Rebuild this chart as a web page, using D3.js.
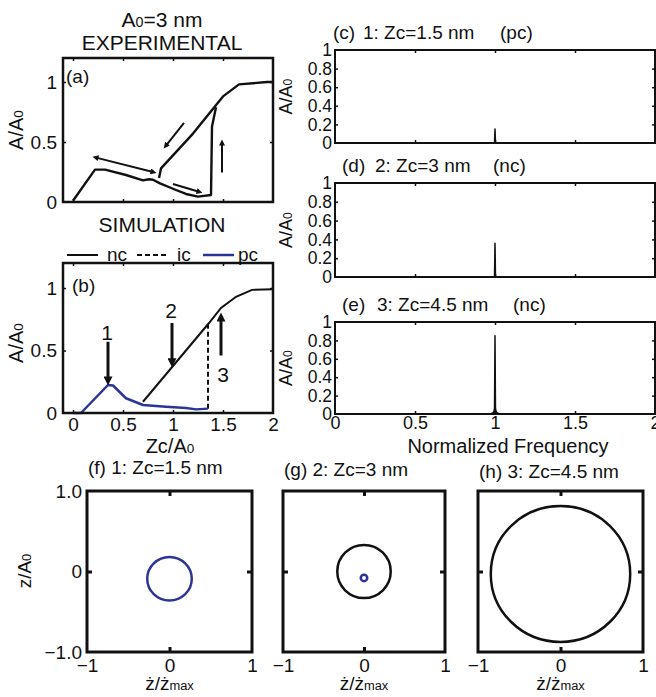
<!DOCTYPE html>
<html>
<head>
<meta charset="utf-8">
<script src="https://cdn.jsdelivr.net/npm/d3@7"></script>
<style>
  body { margin: 0; background: #fff; }
  svg { display: block; font-family: "Liberation Sans", Arial, Helvetica, sans-serif; }
</style>
</head>
<body>
<svg id="fig" width="656" height="697"></svg>
<script>
// ---- data ----
// (a) experimental A/A0 vs Zc/A0
const expLowerX = [0, 0.22, 0.32, 0.53, 0.70, 0.76, 0.80, 0.87, 1.03, 1.13, 1.25, 1.38, 1.39, 1.43];
const expLowerY = [0.01, 0.27, 0.27, 0.225, 0.18, 0.19, 0.185, 0.155, 0.10, 0.067, 0.045, 0.058, 0.63, 0.79];
const expUpperX = [0.86, 0.88, 1.20, 1.50, 1.66, 1.94, 2.0];
const expUpperY = [0.20, 0.28, 0.57, 0.88, 0.98, 1.0, 1.0];
// arrows in (a): [x1, y1, x2, y2, double]
const expArrows = [
  [0.80, 0.25, 0.23, 0.37, true],
  [1.00, 0.15, 1.26, 0.085, false],
  [1.11, 0.66, 0.93, 0.47, false],
  [1.49, 0.245, 1.49, 0.49, false]
];

// (b) simulation
const simPcX = [0, 0.08, 0.35, 0.40, 0.53, 0.70, 0.93, 1.13, 1.23, 1.35];
const simPcY = [0, 0, 0.224, 0.22, 0.118, 0.064, 0.05, 0.04, 0.029, 0.035];
const simNcX = [0.70, 1.36, 1.48, 1.63, 1.79, 2.0];
const simNcY = [0.09, 0.72, 0.84, 0.93, 0.985, 0.99];
const simIcX = [1.35, 1.35];
const simIcY = [0.035, 0.71];
const simArrows = [
  [0.35, 0.57, 0.35, 0.264],
  [0.99, 0.72, 0.99, 0.41],
  [1.48, 0.46, 1.48, 0.76]
];
const simMarks = [['1', 0.34, 0.584], ['2', 0.98, 0.76], ['3', 1.50, 0.25]];
const legendNames = ['nc', 'ic', 'pc'];

// (c)-(e) spectra
const specFreq = [0, 0.96, 0.975, 0.985, 0.993, 0.997, 1, 1.003, 1.007, 1.015, 1.025, 1.04, 2];
const specC = [0, 0, 0, 0, 0, 0.004, 0.15, 0.004, 0, 0, 0, 0, 0];
const specD = [0, 0, 0, 0, 0, 0.006, 0.36, 0.006, 0, 0, 0, 0, 0];
const specE = [0, 0, 0.004, 0.01, 0.025, 0.06, 0.85, 0.06, 0.025, 0.01, 0.004, 0, 0];
const specTitles = [
  ['(c)', '1: Zc=1.5 nm', '(pc)'],
  ['(d)', '2: Zc=3 nm', '(nc)'],
  ['(e)', '3: Zc=4.5 nm', '(nc)']
];
const specTicksY = [0, 0.2, 0.4, 0.6, 0.8, 1];
const specTicksX = [0, 0.5, 1, 1.5, 2];

// (f)-(h) phase portraits: [centre x, centre y, radius, branch]
const orbitsF = [[0, -0.09, 0.27, 'pc']];
const orbitsG = [[0, 0, 0.33, 'nc'], [0, -0.08, 0.04, 'pc']];
const orbitsH = [[0, -0.03, 0.845, 'nc']];
const orbitTitles = ['(f) 1: Zc=1.5 nm', '(g) 2: Zc=3 nm', '(h) 3: Zc=4.5 nm'];

// ---- drawing ----
const svg = d3.select('#fig');
const BLUE = '#2b3596';
const colorOf = b => b === 'pc' ? BLUE : '#111';

svg.append('defs').selectAll('marker')
  .data([['headS', 10, 6], ['headL', 15, 9]])
  .join('marker')
  .attr('id', d => d[0])
  .attr('markerUnits', 'userSpaceOnUse')
  .attr('viewBox', '0 0 10 10')
  .attr('refX', 4).attr('refY', 5)
  .attr('markerWidth', d => d[1]).attr('markerHeight', d => d[2])
  .attr('orient', 'auto-start-reverse')
  .append('path').attr('d', 'M0,0L10,5L0,10Z').attr('fill', '#111');

function makePanel(x0, x1, y0, y1, xDom, yDom, frameW) {
  const x = d3.scaleLinear().domain(xDom).range([x0, x1]);
  const y = d3.scaleLinear().domain(yDom).range([y1, y0]);
  const g = svg.append('g');
  return { g, x, y, x0, x1, y0, y1, frameW };
}

function innerTicks(p, xt, yt, len, w) {
  const add = (axis, tr) => {
    const a = p.g.append('g').attr('transform', tr).call(axis);
    a.select('.domain').remove();
    a.selectAll('text').remove();
    a.selectAll('line').attr('stroke', '#111').attr('stroke-width', w);
  };
  add(d3.axisBottom(p.x).tickValues(xt).tickSize(-len), `translate(0,${p.y1})`);
  add(d3.axisTop(p.x).tickValues(xt).tickSize(-len), `translate(0,${p.y0})`);
  add(d3.axisLeft(p.y).tickValues(yt).tickSize(-len), `translate(${p.x0},0)`);
  add(d3.axisRight(p.y).tickValues(yt).tickSize(-len), `translate(${p.x1},0)`);
}

function frame(p) {
  p.g.append('rect')
    .attr('x', p.x0).attr('y', p.y0)
    .attr('width', p.x1 - p.x0).attr('height', p.y1 - p.y0)
    .attr('fill', 'none').attr('stroke', '#111').attr('stroke-width', p.frameW);
}

function tickLabels(p, side, vals, fmt, size, pad) {
  const axis = (side === 'left' ? d3.axisLeft(p.y) : d3.axisBottom(p.x))
    .tickValues(vals).tickSize(0).tickPadding(pad).tickFormat(fmt);
  const a = p.g.append('g')
    .attr('transform', side === 'left' ? `translate(${p.x0},0)` : `translate(0,${p.y1})`)
    .call(axis);
  a.select('.domain').remove();
  a.attr('font-family', null).attr('font-size', size);
  a.selectAll('text').attr('fill', '#111');
}

// text with a small subscript part, e.g. A/A0
function subText(sel, parts, size) {
  parts.forEach(([t, small]) => {
    sel.append('tspan').attr('font-size', small ? size * 0.68 : size).text(t);
  });
  return sel;
}

function yLabel(cx, cy, parts, size) {
  const t = svg.append('text')
    .attr('transform', `translate(${cx},${cy}) rotate(-90)`)
    .attr('text-anchor', 'middle').attr('fill', '#111');
  subText(t, parts, size);
}

const lineGen = (p, xs, ys) => d3.line().x((d, i) => p.x(xs[i])).y((d, i) => p.y(ys[i]))(xs);

// titles
subText(svg.append('text').attr('x', 162).attr('y', 27).attr('text-anchor', 'middle').attr('fill', '#111'),
  [['A', false], ['0', true], ['=3 nm', false]], 21);
svg.append('text').attr('x', 162).attr('y', 50).attr('text-anchor', 'middle')
  .attr('font-size', 21).attr('fill', '#111').text('EXPERIMENTAL');
svg.append('text').attr('x', 162).attr('y', 232).attr('text-anchor', 'middle')
  .attr('font-size', 21).attr('fill', '#111').text('SIMULATION');

// ---- (a) ----
const pa = makePanel(63, 273, 58, 202, [-0.1, 2], [0, 1.2], 2.5);
innerTicks(pa, [0, 0.5, 1, 1.5], [0.5, 1], 3, 1.5);
pa.g.append('path').attr('d', lineGen(pa, expLowerX, expLowerY))
  .attr('fill', 'none').attr('stroke', '#111').attr('stroke-width', 2.4).attr('stroke-linejoin', 'round');
pa.g.append('path').attr('d', lineGen(pa, expUpperX, expUpperY))
  .attr('fill', 'none').attr('stroke', '#111').attr('stroke-width', 2.4).attr('stroke-linejoin', 'round');
pa.g.selectAll('line.arr').data(expArrows).join('line')
  .attr('x1', d => pa.x(d[0])).attr('y1', d => pa.y(d[1]))
  .attr('x2', d => pa.x(d[2])).attr('y2', d => pa.y(d[3]))
  .attr('stroke', '#111').attr('stroke-width', 2)
  .attr('marker-end', 'url(#headS)')
  .attr('marker-start', d => d[4] ? 'url(#headS)' : null);
frame(pa);
tickLabels(pa, 'left', [0, 0.5, 1], d => d === 0 ? '0' : d3.format('~g')(d), 19, 6);
pa.g.append('text').attr('x', 66).attr('y', 83).attr('font-size', 19).attr('fill', '#111').text('(a)');
yLabel(23, 130, [['A/A', false], ['0', true]], 20);

// ---- (b) ----
const pb = makePanel(63, 273, 263, 413, [-0.1, 2], [0, 1.2], 2.5);
innerTicks(pb, [0, 0.5, 1, 1.5], [0.5, 1], 3, 1.5);
pb.g.append('path').attr('d', lineGen(pb, simNcX, simNcY))
  .attr('fill', 'none').attr('stroke', '#111').attr('stroke-width', 2);
pb.g.append('path').attr('d', lineGen(pb, simIcX, simIcY))
  .attr('fill', 'none').attr('stroke', '#111').attr('stroke-width', 2).attr('stroke-dasharray', '5,3');
pb.g.append('path').attr('d', lineGen(pb, simPcX, simPcY))
  .attr('fill', 'none').attr('stroke', BLUE).attr('stroke-width', 2.5).attr('stroke-linejoin', 'round');
pb.g.selectAll('line.arr').data(simArrows).join('line')
  .attr('x1', d => pb.x(d[0])).attr('y1', d => pb.y(d[1]))
  .attr('x2', d => pb.x(d[2])).attr('y2', d => pb.y(d[3]))
  .attr('stroke', '#111').attr('stroke-width', 3)
  .attr('marker-end', 'url(#headL)');
pb.g.selectAll('text.mark').data(simMarks).join('text')
  .attr('x', d => pb.x(d[1])).attr('y', d => pb.y(d[2]))
  .attr('text-anchor', 'middle').attr('font-size', 21).attr('fill', '#111').text(d => d[0]);
frame(pb);
tickLabels(pb, 'left', [0, 0.5, 1], d => d === 0 ? '0' : d3.format('~g')(d), 19, 6);
tickLabels(pb, 'bottom', [0, 0.5, 1, 1.5, 2], d3.format('~g'), 19, 5);
pb.g.append('text').attr('x', 72).attr('y', 292).attr('font-size', 19).attr('fill', '#111').text('(b)');
yLabel(23, 343, [['A/A', false], ['0', true]], 20);
subText(svg.append('text').attr('x', 170).attr('y', 453).attr('text-anchor', 'middle').attr('fill', '#111'),
  [['Zc/A', false], ['0', true]], 20);

// legend above (b)
const legX = [67, 137, 203];
const leg = svg.append('g').selectAll('g').data(legendNames).join('g')
  .attr('transform', (d, i) => `translate(${legX[i]},255)`);
leg.append('line').attr('x1', 0).attr('x2', 31).attr('y1', 0).attr('y2', 0)
  .attr('stroke', d => colorOf(d)).attr('stroke-width', d => d === 'pc' ? 2.5 : 2)
  .attr('stroke-dasharray', d => d === 'ic' ? '5,3' : null);
leg.append('text').attr('x', (d, i) => i === 2 ? 35 : 40).attr('y', 6)
  .attr('font-size', 19).attr('fill', '#111').text(d => d);

// ---- (c)-(e) spectra ----
const specBoxes = [[50, 143], [183, 277], [322, 414]];
const specSeries = [specC, specD, specE];
const titleY = [39, 172, 311];
const titleX = [[333, 363, 500], [342, 375, 493], [342, 377, 513]];
specBoxes.forEach((b, k) => {
  const p = makePanel(335, 655, b[0], b[1], [0, 2], [0, 1], 2);
  innerTicks(p, [0.5, 1, 1.5], [0.2, 0.4, 0.6, 0.8], 3, 1.5);
  const area = d3.area()
    .x((d, i) => p.x(specFreq[i])).y0(p.y(0)).y1((d, i) => p.y(specSeries[k][i]));
  p.g.append('path').attr('d', area(specFreq)).attr('fill', '#111')
    .attr('stroke', '#111').attr('stroke-width', 1.5).attr('stroke-linejoin', 'round');
  frame(p);
  tickLabels(p, 'left', specTicksY, d3.format('~g'), 17.5, 3);
  if (k === 2) tickLabels(p, 'bottom', specTicksX, d3.format('~g'), 18, 2);
  yLabel(292, (b[0] + b[1]) / 2, [['A/A', false], ['0', true]], 18);
  specTitles[k].forEach((t, j) => {
    svg.append('text').attr('x', titleX[k][j]).attr('y', titleY[k])
      .attr('font-size', 19).attr('fill', '#111').text(t);
  });
});
svg.append('text').attr('x', 508).attr('y', 453).attr('text-anchor', 'middle')
  .attr('font-size', 20).attr('fill', '#111').text('Normalized Frequency');

// ---- (f)-(h) phase portraits ----
const orbitBoxes = [[87, 252], [283, 445], [478, 643]];
const orbitSets = [orbitsF, orbitsG, orbitsH];
const orbitTitleY = [474, 476, 478];
orbitBoxes.forEach((b, k) => {
  const p = makePanel(b[0], b[1], 491, 652, [-1, 1], [-1, 1], 3);
  innerTicks(p, [0], [0], 5, 3);
  p.g.selectAll('ellipse').data(orbitSets[k]).join('ellipse')
    .attr('cx', d => p.x(d[0])).attr('cy', d => p.y(d[1]))
    .attr('rx', d => p.x(d[2]) - p.x(0)).attr('ry', d => p.y(0) - p.y(d[2]))
    .attr('fill', 'none').attr('stroke', d => colorOf(d[3]))
    .attr('stroke-width', 2.5);
  frame(p);
  tickLabels(p, 'bottom', [-1, 0, 1], d3.format('~g'), 19, 7);
  if (k === 0) {
    tickLabels(p, 'left', [-1, 0, 1], d => d === 0 ? '0' : d3.format('.1f')(d), 19, 5);
    yLabel(31, 571, [['z/A', false], ['0', true]], 19);
  }
  svg.append('text').attr('x', b[0] + 1).attr('y', orbitTitleY[k])
    .attr('font-size', 19).attr('fill', '#111').text(orbitTitles[k]);
  subText(svg.append('text').attr('x', p.x(0)).attr('y', 690).attr('text-anchor', 'middle').attr('fill', '#111'),
    [['ż/ż', false], ['max', true]], 19);
});
</script>
</body>
</html>
